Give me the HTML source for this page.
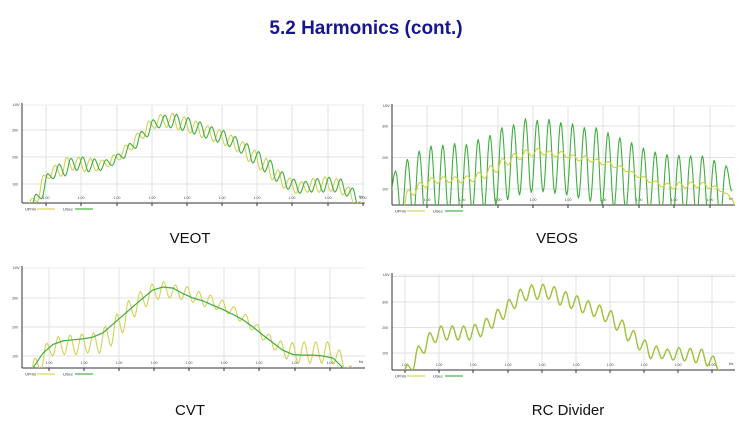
<!DOCTYPE html>
<html><head><meta charset="utf-8"><style>
body{margin:0;background:#fff;width:749px;height:443px;overflow:hidden;font-family:"Liberation Sans",sans-serif}
svg{position:absolute;left:0;top:0}
</style></head><body>
<svg id="s" width="749" height="443" viewBox="0 0 749 443">
<text x="366" y="34" text-anchor="middle" font-family="Liberation Sans, sans-serif" font-weight="bold" font-size="19" fill="#16168f">5.2 Harmonics (cont.)</text>
<text x="190" y="243" text-anchor="middle" font-size="15" fill="#111">VEOT</text>
<text x="557" y="243" text-anchor="middle" font-size="15" fill="#111">VEOS</text>
<text x="190" y="415" text-anchor="middle" font-size="15" fill="#111">CVT</text>
<text x="568" y="415" text-anchor="middle" font-size="15" fill="#111">RC Divider</text>
</svg>
<script>
// ---- data (values in gridline units) ----
const veotYellowPeaks=[0.47,1.33,1.70,1.98,2.0,1.95,1.89,2.07,2.44,2.88,3.33,3.58,3.62,3.49,3.33,3.16,3.02,2.81,2.57,2.26,1.95,1.52,1.23,1.09,1.21,1.27,1.21,0.90,0.35];
const veotYellowTroughs=[0.35,1.21,1.28,1.52,1.46,1.48,1.64,1.89,2.26,2.69,3.06,3.09,3.0,2.88,2.72,2.57,2.42,2.2,1.83,1.52,1.15,0.84,0.65,0.69,0.69,0.72,0.59,0.22];
const veotGreenPeaks=[0.62,1.38,1.74,1.95,2.0,1.93,1.9,2.12,2.5,2.95,3.38,3.55,3.58,3.45,3.3,3.12,2.98,2.76,2.5,2.2,1.88,1.45,1.18,1.1,1.2,1.25,1.18,0.85,0.3];
const veotGreenTroughs=[0.45,1.2,1.3,1.5,1.45,1.5,1.68,1.95,2.32,2.75,3.08,3.08,2.98,2.85,2.7,2.55,2.38,2.14,1.78,1.45,1.1,0.8,0.65,0.7,0.7,0.7,0.55,0.15];
const veosYellowPeaks=[0.97,1.21,1.36,1.39,1.39,1.42,1.53,1.74,1.97,2.13,2.24,2.29,2.21,2.19,2.08,2.05,1.95,1.87,1.74,1.55,1.39,1.25,1.18,1.21,1.23,1.21,1.10,0.86];
const veosYellowTroughs=[0.8,1.05,1.18,1.2,1.2,1.23,1.33,1.52,1.76,1.93,2.04,2.08,2.02,1.99,1.89,1.86,1.77,1.68,1.55,1.37,1.21,1.07,1.0,1.03,1.04,1.02,0.92,0.65];
const veosGreenPeaks=[1.57,1.95,2.21,2.37,2.40,2.45,2.42,2.58,2.71,2.96,3.05,3.24,3.19,3.22,3.12,3.08,2.96,2.96,2.80,2.64,2.48,2.31,2.18,2.10,2.08,2.06,2.06,1.92,1.73];
const veosGreenTroughs=[0.1,0.1,0.1,0.15,0.2,0.25,0.3,0.35,0.5,0.65,0.8,0.88,0.9,0.85,0.8,0.7,0.6,0.5,0.4,0.3,0.25,0.2,0.15,0.1,0.1,0.1,0.1,0.1];
const cvtYellowPeaks=[0.92,1.44,1.67,1.72,1.76,1.80,2.03,2.45,2.91,3.22,3.48,3.56,3.45,3.39,3.22,3.10,2.93,2.70,2.44,2.09,1.75,1.52,1.46,1.49,1.49,1.49,1.21,0.66];
const cvtYellowTroughs=[0.5,1.0,1.05,1.05,1.1,1.1,1.35,1.8,2.35,2.7,2.95,3.0,2.95,2.85,2.7,2.6,2.45,2.2,1.9,1.55,1.2,0.9,0.75,0.75,0.75,0.72,0.5];
const cvtGreenValues=[0.59,1.1,1.4,1.52,1.56,1.59,1.65,1.8,2.1,2.4,2.7,3.0,3.28,3.38,3.34,3.15,3.0,2.9,2.75,2.6,2.43,2.25,2.0,1.72,1.45,1.2,1.05,1.03,1.03,1.0,0.93,0.59];
const rcPeaks=[0.53,1.27,1.80,2.06,2.06,2.06,2.12,2.36,2.71,3.10,3.50,3.67,3.69,3.60,3.40,3.24,3.05,2.88,2.66,2.29,1.88,1.51,1.27,1.15,1.21,1.18,1.15,0.88];
const rcTroughs=[0.33,0.99,1.41,1.51,1.51,1.51,1.64,1.97,2.32,2.75,3.05,3.10,3.11,2.88,2.75,2.58,2.43,2.23,1.90,1.48,1.12,0.78,0.78,0.72,0.69,0.62,0.49,0.33];
const yTickLabels=["0","100","200","300"];
const xTickLabels=["1.00","1.00","1.00","1.00","1.00","1.00","1.00","1.00","1.00","1.00"];

const NS="http://www.w3.org/2000/svg";
const svg=document.getElementById('s');
function mk(tag,attrs,parent){const e=document.createElementNS(NS,tag);for(const k in attrs)e.setAttribute(k,attrs[k]);(parent||svg).appendChild(e);return e;}

const charts=[
 {id:'veot',L:22,T:105,R:365,B:203,y0:211,ky:27,grid:[1,2,3],vx:[46,81,117,152,187,222,257,292,328,363],x0:31.7,dx:11.73},
 {id:'veos',L:392,T:106,R:735,B:205,y0:220.5,ky:31.5,grid:[1,2,3],vx:[427,462,498,533,568,603,639,674,710],x0:408,dx:11.8},
 {id:'cvt',L:22,T:268,R:365,B:368,y0:385,ky:29,grid:[1,2,3],vx:[49,84,119,154,189,224,259,295,330],x0:35,dx:11.7},
 {id:'rc',L:392,T:275,R:735,B:370,y0:378.5,ky:25.5,grid:[1,2,3,4],vx:[405,439,473,508,542,576,610,644,678,712],x0:407,dx:11.33}
];
function drawFrame(c){
 const g=mk('g',{});
 
 
 const ys=v=>c.y0-c.ky*v;
 c.grid.forEach((v,i)=>{
  const l=mk('line',{x1:c.L,x2:c.R,y1:ys(v),y2:ys(v),stroke:'#e2e2e2','stroke-width':1},g);
  
  
  const t=mk('text',{x:c.L-4,y:ys(v)+1.5,'font-size':3.5,'text-anchor':'end',fill:'#444'},g);
  t.textContent=yTickLabels[i+1]||'';
  
  
 });
 mk('line',{x1:c.L,x2:c.R,y1:c.T,y2:c.T,stroke:'#eee'},g);
 c.vx.forEach((x,i)=>{
  const l=mk('line',{x1:x,x2:x,y1:c.T,y2:c.B,stroke:'#e2e2e2','stroke-width':1},g);
  
  
  mk('line',{x1:x,x2:x,y1:c.B,y2:c.B+3,stroke:'#333'},g);
  const t=mk('text',{x:x,y:c.B-4,'font-size':3.5,'text-anchor':'middle',fill:'#444'},g);
  t.textContent=xTickLabels[i];
  
  
 });
 const ya=mk('line',{x1:c.L,x2:c.L,y1:c.T-2,y2:c.B,stroke:'#333','stroke-width':1},g);
 
 
 const xa=mk('line',{x1:c.L,x2:c.R,y1:c.B,y2:c.B,stroke:'#333','stroke-width':1},g);
 
 
 const u=mk('text',{x:c.L-9,y:c.T+1,'font-size':4,fill:'#333'},g);u.textContent='U/V';
 
 
 const ts=mk('text',{x:c.R-6,y:c.B-5,'font-size':4,fill:'#333'},g);ts.textContent='t/s';
 
 
 // legend
 const ly=c.B+6;
 const t1=mk('text',{x:c.L+3,y:ly+1.5,'font-size':4,fill:'#333'},g);t1.textContent='UPrim';
 
 
 mk('line',{x1:c.L+15,x2:c.L+33,y1:ly,y2:ly,stroke:'#d6d660','stroke-width':1.2},g);
 const t2=mk('text',{x:c.L+41,y:ly+1.5,'font-size':4,fill:'#333'},g);t2.textContent='USec';
 
 
 mk('line',{x1:c.L+53,x2:c.L+71,y1:ly,y2:ly,stroke:'#4cb84c','stroke-width':1.2},g);
 const cp=mk('clipPath',{id:'clip-'+c.id},svg);
 mk('rect',{x:c.L,y:c.T-3,width:c.R-c.L,height:c.B-c.T+3},cp);
 c.g=g;c.ys=ys;c.xs=t=>c.x0+t*c.dx;
}
function wave(c,peaks,troughs,phase,color,name,w){
 const ex=[];
 peaks.forEach((p,i)=>{ex.push([i+phase,p]);if(i<troughs.length)ex.push([i+0.5+phase,troughs[i]]);});
 ex.unshift([phase-0.5,ex[0][1]-0.8]);
 ex.push([ex[ex.length-1][0]+0.5,ex[ex.length-1][1]-0.8]);
 let d='';
 for(let k=0;k<ex.length-1;k++){
  const [ta,va]=ex[k],[tb,vb]=ex[k+1];
  for(let s=(k?1:0);s<=6;s++){
   const f=s/6,m=(1-Math.cos(Math.PI*f))/2;
   const x=c.xs(ta+(tb-ta)*f),y=c.ys(va+(vb-va)*m);
   d+=(d?'L':'M')+x.toFixed(1)+','+y.toFixed(1);
  }
 }
 const p=mk('path',{d:d,fill:'none',stroke:color,'stroke-width':w||1.1,'clip-path':'url(#clip-'+c.id+')'},c.g);
 
 
}
charts.forEach(drawFrame);
const [veot,veos,cvt,rc]=charts;
wave(veot,veotYellowPeaks,veotYellowTroughs,0,'#d2d255','uprim-line');
wave(veot,veotGreenPeaks,veotGreenTroughs,0.35,'#3fae3f','usec-line');
wave(veos,veosGreenPeaks,veosGreenTroughs,-1.05,'#3fae3f','usec-line');
wave(veos,veosYellowPeaks,veosYellowTroughs,0,'#d2d240','uprim-line');
wave(cvt,cvtYellowPeaks,cvtYellowTroughs,0,'#d2d255','uprim-line');
(function(){
 const x0=33,x1=343,n=cvtGreenValues.length;
 let d='';
 cvtGreenValues.forEach((v,i)=>{const x=x0+(x1-x0)*i/(n-1);d+=(i?'L':'M')+x.toFixed(1)+','+cvt.ys(v).toFixed(1);});
 const p=mk('path',{d:d,fill:'none',stroke:'#3fae3f','stroke-width':1.2,'clip-path':'url(#clip-cvt)'},cvt.g);
 
 
})();
wave(rc,rcPeaks,rcTroughs,0,'#9cc23a','rc-signal-line',1.4);
</script>
</body></html>
